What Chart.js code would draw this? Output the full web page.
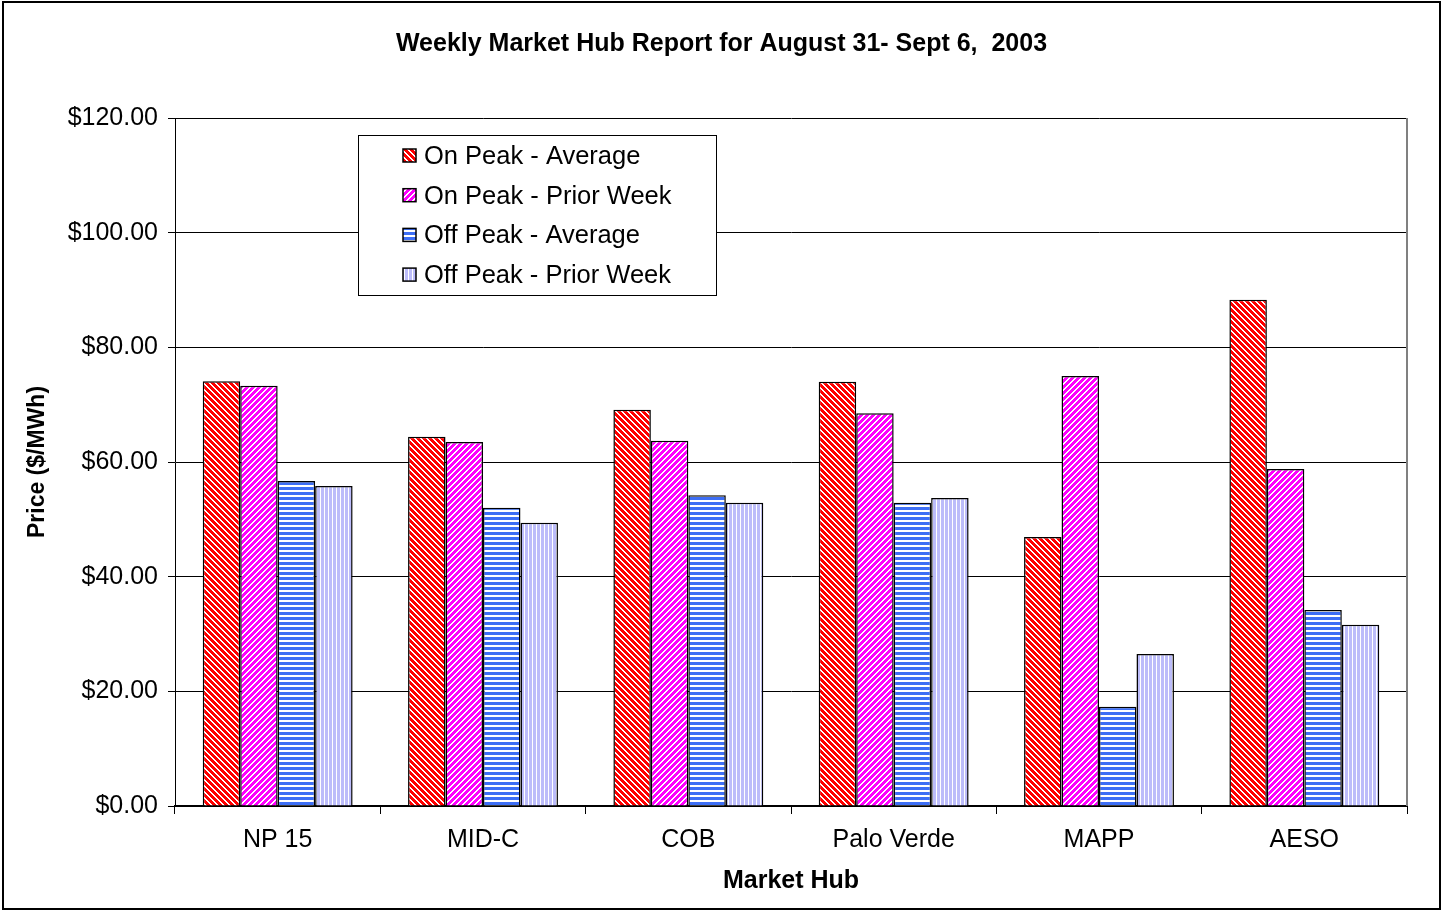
<!DOCTYPE html>
<html>
<head>
<meta charset="utf-8">
<script src="https://cdn.jsdelivr.net/npm/chart.js@4.4.0/dist/chart.umd.min.js"></script>
<style>
  body { margin: 0; background: #fff; }
  #wrap { width: 1443px; height: 911px; position: relative; }
</style>
</head>
<body>
<div id="wrap"><canvas id="hub-chart"></canvas></div>
<script>
const hubs = ['NP 15', 'MID-C', 'COB', 'Palo Verde', 'MAPP', 'AESO'];
const seriesNames = ['On Peak - Average', 'On Peak - Prior Week', 'Off Peak - Average', 'Off Peak - Prior Week'];
const onPeakAvg = [74.1, 64.4, 69.1, 74.0, 46.9, 88.3];
const onPeakPrior = [73.3, 63.5, 63.7, 68.5, 75.0, 58.8];
const offPeakAvg = [56.7, 52.0, 54.2, 52.9, 17.3, 34.2];
const offPeakPrior = [55.8, 49.4, 52.9, 53.7, 26.5, 31.6];
const yMin = 0, yMax = 120, yStep = 20;
const chartTitle = 'Weekly Market Hub Report for August 31- Sept 6,  2003';

const FONT = "'Liberation Sans', Arial, sans-serif";

// small striped fills like the old excel hatch patterns
function makePattern(base, kind, size, w) {
  const c = document.createElement('canvas');
  c.width = size; c.height = size;
  const g = c.getContext('2d');
  g.fillStyle = base;
  g.fillRect(0, 0, size, size);
  g.fillStyle = '#fff';
  for (let x = 0; x < size; x++) {
    for (let y = 0; y < size; y++) {
      let v;
      if (kind === 'back') v = (x - y + size) % size;
      else if (kind === 'fwd') v = (x + y) % size;
      else if (kind === 'h') v = y;
      else v = x;
      if (v < w) g.fillRect(x, y, 1, 1);
    }
  }
  return g.createPattern(c, 'repeat');
}

const fills = [
  makePattern('#ff0000', 'back', 6, 2),
  makePattern('#ff00ff', 'fwd', 6, 2),
  makePattern('#3d6ef5', 'h', 5, 2),
  makePattern('#bcbcfa', 'v', 4, 1)
];
const values = [onPeakAvg, onPeakPrior, offPeakAvg, offPeakPrior];

const frame = {
  id: 'frame',
  beforeDraw(chart) {
    const ctx = chart.ctx;
    ctx.save();
    ctx.fillStyle = '#fff';
    ctx.fillRect(0, 0, chart.width, chart.height);
    ctx.strokeStyle = '#000';
    ctx.lineWidth = 2;
    ctx.strokeRect(3, 2, chart.width - 6, chart.height - 4);
    // title centred on the whole picture, not the plot
    ctx.fillStyle = '#000';
    ctx.font = 'bold 25px ' + FONT;
    ctx.textAlign = 'center';
    ctx.textBaseline = 'middle';
    ctx.fillText(chartTitle, chart.width / 2, 44);
    ctx.restore();
  },
  afterDraw(chart) {
    const ctx = chart.ctx;
    const a = chart.chartArea;
    ctx.save();
    ctx.strokeStyle = '#808080';
    ctx.lineWidth = 2;
    ctx.beginPath();
    ctx.moveTo(a.right, a.top);
    ctx.lineTo(a.right, a.bottom);
    ctx.stroke();

    // legend box inside the plot
    const bx = 358, by = 135, bw = 358, bh = 160;
    ctx.fillStyle = '#fff';
    ctx.fillRect(bx, by, bw, bh);
    ctx.strokeStyle = '#000';
    ctx.lineWidth = 1;
    ctx.strokeRect(bx + 0.5, by + 0.5, bw, bh);
    ctx.font = '25.5px ' + FONT;
    ctx.textBaseline = 'middle';
    ctx.textAlign = 'left';
    chart.data.datasets.forEach((ds, i) => {
      const cy = by + 21 + i * 39.7;
      ctx.fillStyle = ds.backgroundColor;
      ctx.fillRect(403, cy - 7, 13, 13);
      ctx.strokeStyle = '#000';
      ctx.lineWidth = 1.5;
      ctx.strokeRect(403, cy - 7, 13, 13);
      ctx.fillStyle = '#000';
      ctx.fillText(ds.label, 424, cy + 1);
    });
    ctx.restore();
  }
};

new Chart(document.getElementById('hub-chart'), {
  type: 'bar',
  data: {
    labels: hubs,
    datasets: seriesNames.map((name, i) => ({
      label: name,
      data: values[i],
      backgroundColor: fills[i],
      borderColor: '#000',
      borderWidth: 1.5,
      categoryPercentage: 0.73,
      barPercentage: 1.0
    }))
  },
  options: {
    responsive: true,
    maintainAspectRatio: false,
    animation: false,
    layout: { padding: { left: 0, right: 36, top: 118, bottom: 0 } },
    plugins: {
      legend: { display: false },
      tooltip: { enabled: false },
      title: { display: false }
    },
    scales: {
      x: {
        afterFit(scale) { scale.height = 105; },
        grid: { drawOnChartArea: false, tickLength: 8, color: '#000', tickWidth: 1 },
        border: { display: true, color: '#000', width: 2 },
        ticks: { color: '#000', font: { family: FONT, size: 25 }, padding: 11, maxRotation: 0 },
        title: {
          display: true,
          text: 'Market Hub',
          color: '#000',
          font: { family: FONT, size: 25, weight: 'bold' },
          padding: { top: 0, bottom: 15 }
        }
      },
      y: {
        min: yMin,
        max: yMax,
        afterFit(scale) { scale.width = 175; },
        grid: { color: '#000', lineWidth: 1, tickLength: 7 },
        border: { display: true, color: '#000', width: 1 },
        ticks: {
          stepSize: yStep,
          color: '#000',
          padding: 10,
          font: { family: FONT, size: 25 },
          callback: v => '$' + v.toFixed(2)
        },
        title: {
          display: true,
          text: 'Price ($/MWh)',
          color: '#000',
          font: { family: FONT, size: 23, weight: 'bold' },
          padding: { top: 24, bottom: 0 }
        }
      }
    }
  },
  plugins: [frame]
});
</script>
</body>
</html>
